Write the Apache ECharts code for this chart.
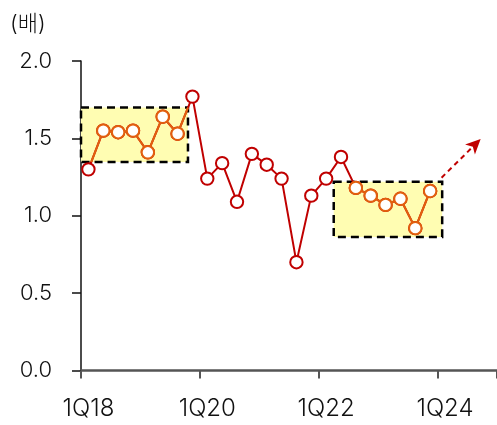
<!DOCTYPE html>
<html>
<head>
<meta charset="utf-8">
<script src="https://cdn.jsdelivr.net/npm/echarts@6/dist/echarts.min.js"></script>
<style>
  html, body { margin: 0; padding: 0; background: #fff; }
  #chart { width: 497px; height: 425px; }
</style>
</head>
<body>
<div id="chart"></div>
<script>
// Quarterly categories, 1Q18 .. 4Q24
const quarters = [
  '1Q18','2Q18','3Q18','4Q18','1Q19','2Q19','3Q19','4Q19',
  '1Q20','2Q20','3Q20','4Q20','1Q21','2Q21','3Q21','4Q21',
  '1Q22','2Q22','3Q22','4Q22','1Q23','2Q23','3Q23','4Q23',
  '1Q24','2Q24','3Q24','4Q24'
];

// Ratio (times), 1Q18 .. 4Q23
const ratio = [
  1.30, 1.55, 1.54, 1.55, 1.41, 1.64, 1.53, 1.77,
  1.24, 1.34, 1.09, 1.40, 1.33, 1.24, 0.70, 1.13,
  1.24, 1.38, 1.18, 1.13, 1.07, 1.11, 0.92, 1.16
];

// Y-axis ticks
const yTicks = [0, 0.5, 1.0, 1.5, 2.0];

// Highlighted ranges, in category-index / value units: [xFrom, xTo, yFrom, yTo]
const highlightBoxes = [
  [-0.5, 6.70, 1.347, 1.700],
  [16.51, 23.81, 0.863, 1.220]
];

// Trend arrow, from -> to, in category-index / value units
const trendArrow = [[23.77, 1.246], [26.40, 1.496]];

const RED = '#C00000';
const ORANGE = '#E2600E';
const FONT = "Inter, 'Noto Sans CJK KR', sans-serif";

// pixel helpers that allow fractional category positions
function makeMapper(api) {
  const a = api.coord([0, 0]);
  const b = api.coord([1, 0]);
  const step = b[0] - a[0];
  return {
    x: i => a[0] + i * step,
    y: v => api.coord([0, v])[1]
  };
}

// Liang-Barsky segment clipping to rect
function clipSeg(p, q, r) {
  let t0 = 0, t1 = 1;
  const dx = q[0] - p[0], dy = q[1] - p[1];
  const checks = [
    [-dx, p[0] - r.x0], [dx, r.x1 - p[0]],
    [-dy, p[1] - r.y0], [dy, r.y1 - p[1]]
  ];
  for (const [pp, qq] of checks) {
    if (pp === 0) { if (qq < 0) return null; continue; }
    const t = qq / pp;
    if (pp < 0) { if (t > t1) return null; if (t > t0) t0 = t; }
    else { if (t < t0) return null; if (t < t1) t1 = t; }
  }
  return [[p[0] + t0 * dx, p[1] + t0 * dy], [p[0] + t1 * dx, p[1] + t1 * dy]];
}

function boxRects(m) {
  return highlightBoxes.map(b => {
    const xa = m.x(b[0]), xb = m.x(b[1]);
    const ya = m.y(b[2]), yb = m.y(b[3]);
    return { x0: Math.min(xa, xb), x1: Math.max(xa, xb), y0: Math.min(ya, yb), y1: Math.max(ya, yb) };
  });
}

// Yellow boxes with dashed frame (under the line)
function renderBoxes(params, api) {
  const m = makeMapper(api);
  const children = boxRects(m).map(r => ({
    type: 'rect',
    shape: { x: r.x0, y: r.y0, width: r.x1 - r.x0, height: r.y1 - r.y0 },
    style: { fill: '#FFFDB2', stroke: '#000', lineWidth: 2.5, lineDash: [8, 5] }
  }));
  return { type: 'group', children };
}

// Orange overlay inside boxes + trend arrow (over the line)
function renderOverlay(params, api) {
  const m = makeMapper(api);
  const pts = ratio.map((v, i) => [m.x(i), m.y(v)]);
  const rects = boxRects(m);
  const children = [];
  rects.forEach(r => {
    for (let i = 0; i < pts.length - 1; i++) {
      const seg = clipSeg(pts[i], pts[i + 1], r);
      if (seg) {
        children.push({
          type: 'line',
          shape: { x1: seg[0][0], y1: seg[0][1], x2: seg[1][0], y2: seg[1][1] },
          style: { stroke: ORANGE, lineWidth: 2 }
        });
      }
    }
  });
  pts.forEach(p => {
    const inside = rects.some(r => p[0] >= r.x0 && p[0] <= r.x1 && p[1] >= r.y0 && p[1] <= r.y1);
    if (inside) {
      children.push({
        type: 'circle',
        shape: { cx: p[0], cy: p[1], r: 6.2 },
        style: { fill: '#fff', stroke: ORANGE, lineWidth: 2 }
      });
    }
  });
  // dashed trend arrow
  const s = [m.x(trendArrow[0][0]), m.y(trendArrow[0][1])];
  const e = [m.x(trendArrow[1][0]), m.y(trendArrow[1][1])];
  const ang = Math.atan2(e[1] - s[1], e[0] - s[0]);
  const headLen = 15, headW = 7;
  const base = [e[0] - headLen * Math.cos(ang), e[1] - headLen * Math.sin(ang)];
  const nx = -Math.sin(ang), ny = Math.cos(ang);
  children.push({
    type: 'line',
    shape: { x1: s[0], y1: s[1], x2: base[0] + 3 * Math.cos(ang), y2: base[1] + 3 * Math.sin(ang) },
    style: { stroke: RED, lineWidth: 2, lineDash: [5, 4] }
  });
  children.push({
    type: 'polygon',
    shape: { points: [
      e,
      [base[0] + nx * headW, base[1] + ny * headW],
      [base[0] + 4 * Math.cos(ang), base[1] + 4 * Math.sin(ang)],
      [base[0] - nx * headW, base[1] - ny * headW]
    ] },
    style: { fill: RED }
  });
  return { type: 'group', children };
}

const chart = echarts.init(document.getElementById('chart'), null, { renderer: 'canvas' });
chart.setOption({
  animation: false,
  backgroundColor: '#fff',
  title: {
    text: '(배)',
    left: 5, top: 8,
    textStyle: { fontFamily: FONT, fontSize: 22, fontWeight: 300, color: '#111' }
  },
  grid: { left: 81, right: -2, top: 61, bottom: 54.5, containLabel: false },
  xAxis: {
    type: 'category',
    data: quarters,
    boundaryGap: true,
    axisLine: { show: true, lineStyle: { color: '#555', width: 2.5 } },
    axisTick: { show: true, interval: 7, length: 8, lineStyle: { color: '#555', width: 2 } },
    axisLabel: { interval: 7, margin: 26, fontFamily: FONT, fontSize: 24, fontWeight: 300, color: '#111' }
  },
  yAxis: {
    type: 'value',
    min: yTicks[0], max: yTicks[yTicks.length - 1], interval: 0.5,
    axisLine: { show: true, lineStyle: { color: '#111', width: 1.5 } },
    axisTick: { show: true, length: 9, lineStyle: { color: '#111', width: 1.5 } },
    splitLine: { show: false },
    axisLabel: { margin: 29, fontFamily: FONT, fontSize: 22, fontWeight: 300, color: '#111',
      formatter: v => v.toFixed(1) }
  },
  series: [
    {
      type: 'custom',
      z: 1,
      clip: false,
      silent: true,
      renderItem: renderBoxes,
      data: [[0, 0]]
    },
    {
      type: 'line',
      z: 2,
      data: ratio,
      symbol: 'circle',
      symbolSize: 12.4,
      showSymbol: true,
      showAllSymbol: true,
      itemStyle: { color: '#fff', borderColor: RED, borderWidth: 2 },
      lineStyle: { color: RED, width: 2 }
    },
    {
      type: 'custom',
      z: 5,
      clip: false,
      silent: true,
      renderItem: renderOverlay,
      data: [[0, 0]]
    }
  ]
});
</script>
</body>
</html>
